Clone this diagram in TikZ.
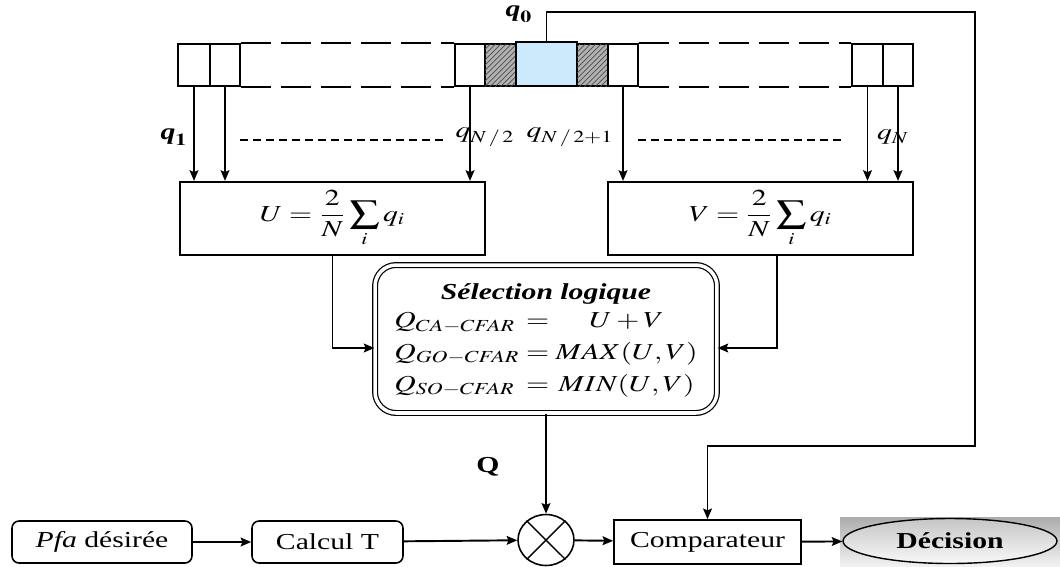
\documentclass[tikz,border=0pt]{standalone}
\usepackage{amsmath}
\usepackage{mathptmx}
\usepackage{fontspec}
\setmainfont{Liberation Serif}
\usepackage{graphicx}
\usetikzlibrary{arrows.meta,calc,positioning,patterns,shapes.geometric}

\definecolor{cellblue}{RGB}{204,234,252}
\newcommand{\wx}[1]{\scalebox{1.3}[1]{#1}}
\renewcommand{\arraystretch}{1.2}

\begin{document}
\begin{tikzpicture}[x=0.02cm,y=-0.02cm,>={Stealth[length=6pt,width=5pt,inset=1pt]},
    font=\fontsize{13}{15}\selectfont,
    cell/.style={draw,line width=1.4pt,inner sep=0pt,minimum width=0.6cm,minimum height=0.84cm},
    hatch/.style={cell,fill=gray!60,postaction={pattern=north east lines,pattern color=black!70}},
    blk/.style={draw,line width=1.3pt,inner sep=2pt},
    rblk/.style={draw,line width=0.9pt,rounded corners=4pt,inner sep=2pt},
    link/.style={->,line width=1.1pt}]

    \useasboundingbox (0,0) rectangle (1060,566);

    % Registre
    \node[cell,minimum width=0.64cm] (c1) at (194,65) {};
    \node[cell] (c2) at (225,65) {};
    \node[cell] (c3) at (470,65) {};
    \node[hatch,minimum width=0.62cm] (h1) at (500.5,65) {};
    \node[cell,fill=cellblue,minimum width=1.22cm,minimum height=0.88cm] (c0) at (546.5,64) {};
    \node[hatch,minimum width=0.62cm] (h2) at (592.5,65) {};
    \node[cell] (c4) at (623,65) {};
    \node[cell,minimum width=0.62cm] (c5) at (867.5,65) {};
    \node[cell] (c6) at (898,65) {};

    % Pointilles du registre
    \foreach \a/\b in {c2/c3,c4/c5} {
        \draw[line width=1.4pt,dash pattern=on 0.6cm off 0.2cm] (\a.north east) -- (\b.north west);
        \draw[line width=1.4pt,dash pattern=on 0.6cm off 0.2cm] (\a.south east) -- (\b.south west);
    }

    \node (lq0) at (519,14) {\wx{$\textbf{\textit{q}}_{\mathbf{0}}$}};

    % Sommes
    \node[blk,minimum width=6.1cm,minimum height=1.46cm] (U) at (332.5,218.5)
        {\wx{$\displaystyle U=\frac{2}{N}\sum_i q_i$}};
    \node[blk,minimum width=6.1cm,minimum height=1.46cm] (V) at (760.5,218.5)
        {\wx{$\displaystyle V=\frac{2}{N}\sum_i q_i$}};

    \foreach \c in {c1,c2,c3} \draw[link] (\c.south) -- (\c.south |- U.north);
    \foreach \c in {c4,c5,c6} \draw[link] (\c.south) -- (\c.south |- V.north);

    \draw[line width=0.8pt,dash pattern=on 0.16cm off 0.1cm] (240,140) -- (447,140);
    \draw[line width=0.8pt,dash pattern=on 0.16cm off 0.1cm] (638,140) -- (845,140);

    \node (lq1) at (174,137) {\wx{$\textbf{\textit{q}}_{\mathbf{1}}$}};
    \node (lqa) at (485,137) {\wx{$q_{N\,/\,2}$}};
    \node (lqb) at (570,137) {\wx{$q_{N\,/\,2+1}$}};
    \node (lqn) at (893,137) {\wx{$q_N$}};

    % Selection logique
    \node[draw,double,double distance=2pt,line width=0.7pt,rounded corners=12pt,
          minimum width=6.84cm,minimum height=2.96cm] (sel) at (546,339)
        {\wx{\begin{tabular}{@{}c@{}}
            \textbf{\textit{Sélection logique}}\\[-2pt]
            $\begin{array}{@{}l@{\;}c@{\;}c@{}}
                Q_{CA-CFAR} & = & U+V\\
                Q_{GO-CFAR} & = & MAX(U,V)\\
                Q_{SO-CFAR} & = & MIN(U,V)
            \end{array}$
        \end{tabular}}};

    \draw[link] (U.south) |- ($(sel.west)+(0,9)$);
    \draw[link] ($(V.south)+(16.5,0)$) |- ($(sel.east)+(0,9)$);

    % Chaine de decision
    \node[draw,ellipse,line width=0.9pt,inner sep=0pt,minimum width=1.12cm,minimum height=1.02cm] (mult) at (546,540) {};
    \draw[line width=0.8pt] (mult.45) -- (mult.225) (mult.135) -- (mult.315);

    \node (lQ) at (488,467) {\wx{\textbf{Q}}};
    \draw[link] (sel.south) -- (mult.north);

    \node[rblk,minimum width=3.6cm,minimum height=0.84cm] (pfa) at (102,542) {\wx{\textit{Pfa} désirée}};
    \node[rblk,minimum width=3.02cm,minimum height=0.84cm] (calc) at (327.5,542) {\wx{Calcul T}};
    \node[blk,line width=1pt,minimum width=3.74cm,minimum height=0.88cm] (cmp) at (707.5,542) {\wx{Comparateur}};

    \fill[top color=gray!65,bottom color=gray!10] (840,517) rectangle (1060,566);
    \node[draw,ellipse,line width=0.8pt,top color=gray!45,bottom color=gray!5,
          minimum width=4.28cm,minimum height=0.9cm] (dec) at (950,541) {\wx{\textbf{Décision}}};

    \draw[link] (pfa) -- (calc);
    \draw[link] (calc) -- (mult);
    \draw[link] (mult) -- (cmp);
    \draw[link] (cmp) -- (dec);

    % Retour de q0
    \coordinate (fbA) at (975,12);
    \coordinate (fbB) at (975,446);
    \draw[link] (c0.north) |- (fbA) -- (fbB) -| (cmp.north);

\end{tikzpicture}
\end{document}
